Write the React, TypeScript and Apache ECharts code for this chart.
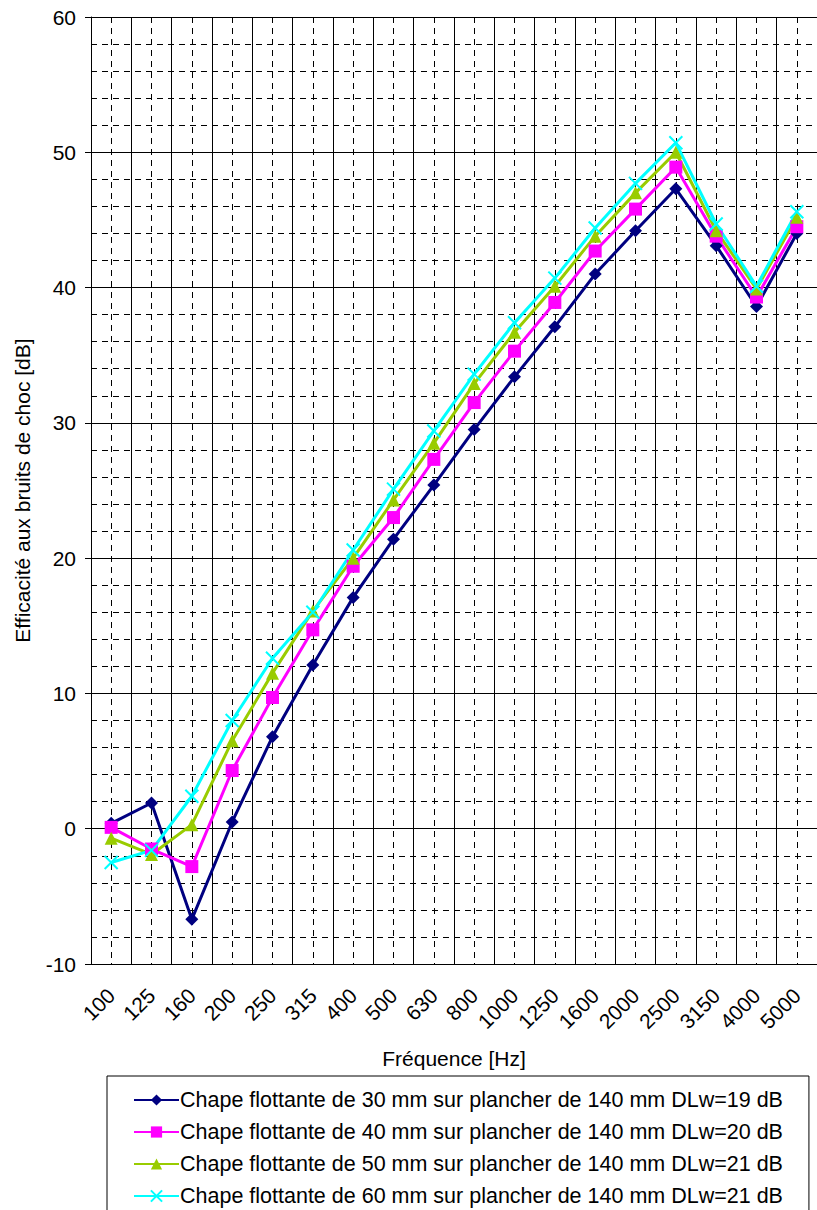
import React, { useEffect, useRef } from "react";
import * as echarts from "echarts";

const frequencies = ["100", "125", "160", "200", "250", "315", "400", "500", "630", "800", "1000", "1250", "1600", "2000", "2500", "3150", "4000", "5000"];
const chape30 = [0.4, 1.9, -6.7, 0.5, 6.8, 12.1, 17.1, 21.4, 25.4, 29.5, 33.4, 37.1, 41.0, 44.2, 47.3, 43.1, 38.6, 44.0];
const chape40 = [0.1, -1.5, -2.8, 4.3, 9.7, 14.7, 19.4, 23.0, 27.3, 31.5, 35.3, 38.9, 42.7, 45.8, 48.9, 43.8, 39.3, 44.5];
const chape50 = [-0.7, -1.9, 0.3, 6.5, 11.5, 16.1, 20.0, 24.3, 28.5, 32.9, 36.7, 40.1, 43.8, 47.0, 50.0, 44.2, 39.9, 45.2];
const chape60 = [-2.5, -1.6, 2.4, 8.0, 12.6, 16.0, 20.6, 25.1, 29.4, 33.6, 37.4, 40.7, 44.4, 47.7, 50.7, 44.7, 40.1, 45.6];
const seriesNames = [
  "Chape flottante de 30 mm sur plancher de 140 mm DLw=19 dB",
  "Chape flottante de 40 mm sur plancher de 140 mm DLw=20 dB",
  "Chape flottante de 50 mm sur plancher de 140 mm DLw=21 dB",
  "Chape flottante de 60 mm sur plancher de 140 mm DLw=21 dB",
];
const yTicks = { min: -10, max: 60, interval: 10 };

const FONT = "'Liberation Sans', Arial, sans-serif";
const DASH = [6, 5];

export default function App() {
  const ref = useRef<HTMLDivElement>(null);
  useEffect(() => {
    document.body.style.margin = "0";
    document.body.style.overflow = "hidden";
    const chart = echarts.init(ref.current!, null, { renderer: "svg" });
    const mk = (name: string, data: number[], color: string, symbol: string, size: number, extra: any = {}) => ({
      name,
      type: "line",
      data,
      xAxisIndex: 0,
      yAxisIndex: 0,
      symbol,
      symbolSize: size,
      lineStyle: { color, width: 3 },
      itemStyle: { color, ...extra },
      emphasis: { disabled: true },
    });
    chart.setOption({
      animation: false,
      backgroundColor: "#fff",
      textStyle: { fontFamily: FONT },
      grid: { left: 91, top: 17, width: 736, height: 947, containLabel: false },
      legend: {
        orient: "vertical",
        left: 107,
        top: 1076,
        height: 300,
        padding: [13, 26, 5, 26],
        itemGap: 10,
        itemWidth: 45,
        itemHeight: 14,
        borderColor: "#000",
        borderWidth: 1,
        backgroundColor: "#fff",
        textStyle: { fontSize: 21.5, lineHeight: 20, color: "#000", fontFamily: FONT, padding: [0, 0, 0, -4] },
        data: seriesNames,
      },
      xAxis: [
        {
          type: "category",
          data: frequencies,
          boundaryGap: true,
          axisLine: { show: true, lineStyle: { color: "#000", width: 1 } },
          axisTick: { show: false },
          axisLabel: { rotate: 45, margin: 28, fontSize: 21, color: "#000", fontFamily: FONT, interval: 0 },
          splitLine: { show: false },
          name: "Fréquence [Hz]",
          nameLocation: "middle",
          nameGap: 84,
          nameTextStyle: { fontSize: 21, color: "#000", fontFamily: FONT },
        },
        {
          type: "value",
          min: 0,
          max: 18,
          interval: 1,
          position: "bottom",
          axisLine: { show: false },
          axisTick: { show: false },
          axisLabel: { show: false },
          splitLine: { show: true, lineStyle: { color: "#000", width: 1 } },
          minorTick: { show: false, splitNumber: 2 },
          minorSplitLine: { show: true, lineStyle: { color: "#000", width: 1, type: DASH } },
        },
      ],
      yAxis: {
        type: "value",
        min: yTicks.min,
        max: yTicks.max,
        interval: yTicks.interval,
        axisLine: { show: true, lineStyle: { color: "#000", width: 1 } },
        axisTick: { show: true, length: 6, lineStyle: { color: "#000" } },
        axisLabel: { margin: 15, fontSize: 21, color: "#000", fontFamily: FONT },
        splitLine: { show: true, lineStyle: { color: "#000", width: 1 } },
        minorTick: { show: false, splitNumber: 5 },
        minorSplitLine: { show: true, lineStyle: { color: "#000", width: 1, type: DASH } },
        name: "Efficacité aux bruits de choc [dB]",
        nameLocation: "middle",
        nameGap: 58,
        nameTextStyle: { fontSize: 21, color: "#000", fontFamily: FONT },
      },
      series: [
        mk(seriesNames[0], chape30, "#000080", "diamond", 13),
        mk(seriesNames[1], chape40, "#FF00FF", "rect", 13),
        mk(seriesNames[2], chape50, "#99CC00", "triangle", 13),
        mk(seriesNames[3], chape60, "#00FFFF", "path://M0,0L10,10M10,0L0,10", 13, { borderColor: "#00FFFF", borderWidth: 2 }),
      ],
    });
    return () => chart.dispose();
  }, []);
  return <div ref={ref} style={{ position: "absolute", left: 0, top: 0, width: 817, height: 1210 }} />;
}
